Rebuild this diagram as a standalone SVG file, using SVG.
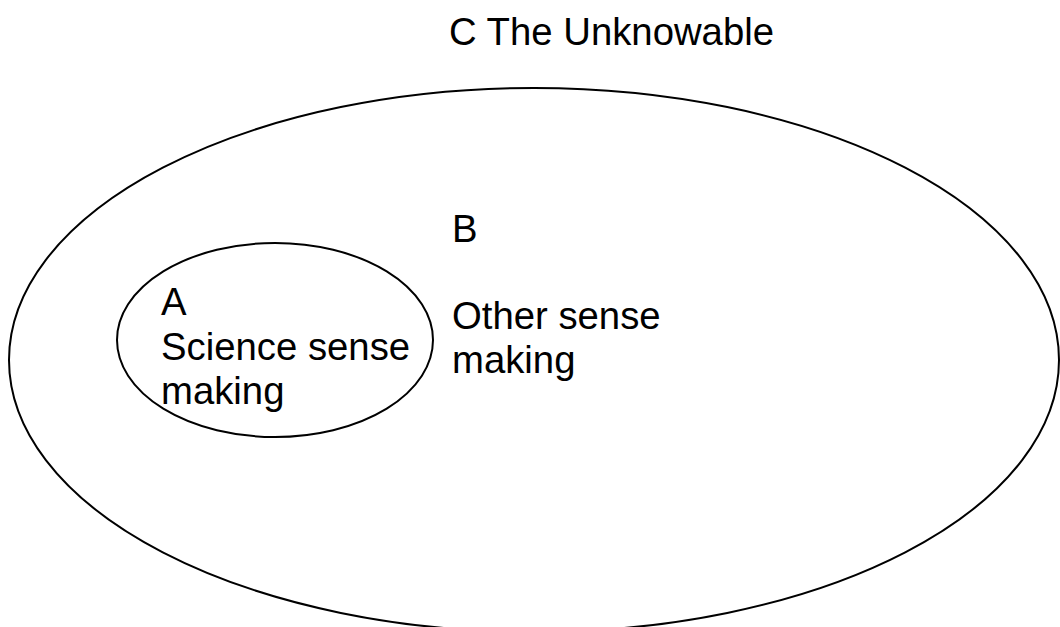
<svg xmlns="http://www.w3.org/2000/svg" width="1060" height="627" viewBox="0 0 1060 627">
<style>
.s{fill:none;stroke:#000;stroke-width:2}
.t{font-family:"Liberation Sans",Arial,sans-serif;font-size:38.3px;fill:#000}
</style>
<rect width="1060" height="627" fill="#fff"/>
<g id="C">
<ellipse class="s" cx="534" cy="360" rx="525" ry="272"/>
<text class="t" x="449" y="45">C The Unknowable</text>
</g>
<g id="B">
<text class="t" x="452" y="242">B</text>
<text class="t" x="452" y="329">Other sense</text>
<text class="t" x="452" y="373">making</text>
</g>
<g id="A">
<ellipse class="s" cx="275" cy="340" rx="158" ry="97"/>
<text class="t" x="161" y="315">A</text>
<text class="t" x="161" y="360">Science sense</text>
<text class="t" x="161" y="404">making</text>
</g>
<g id="connectors"/>
</svg>
